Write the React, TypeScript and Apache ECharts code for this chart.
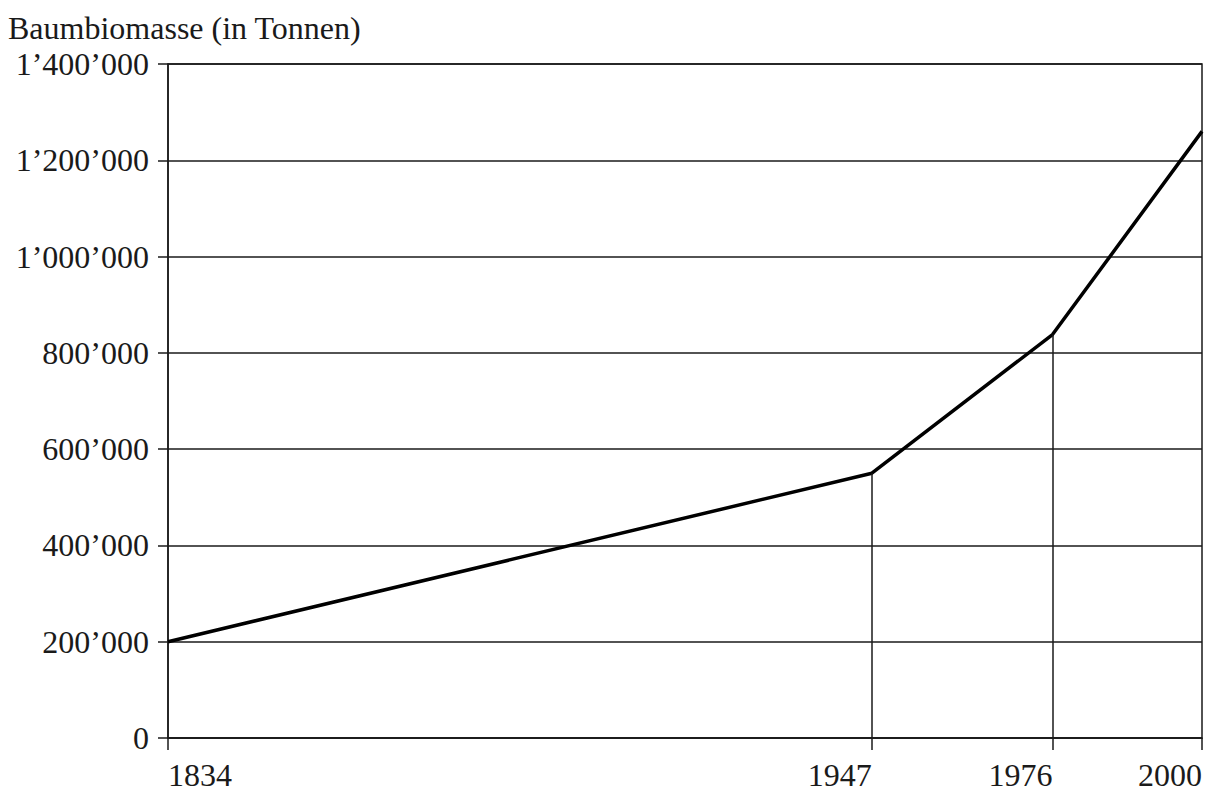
import React, { useEffect, useRef } from "react";
import * as echarts from "echarts";

const years = [1834, 1947, 1976, 2000];
const biomass = [200000, 550000, 838000, 1260000];
const xTicks = [1834, 1947, 1976, 2000];
const yTicks = [0, 200000, 400000, 600000, 800000, 1000000, 1200000, 1400000];
const titleText = "Baumbiomasse (in Tonnen)";

const FONT = "'Liberation Serif', 'Times New Roman', serif";
const INK = "#1a1a1a";

function fmt(v: number): string {
  return String(Math.round(v)).replace(/\B(?=(\d{3})+(?!\d))/g, "\u2019");
}

export default function App() {
  const ref = useRef<HTMLDivElement>(null);
  useEffect(() => {
    if (!ref.current) return;
    const chart = echarts.init(ref.current, null, { renderer: "svg" });
    const dropLines = years
      .map((y, i) => ({ y, v: biomass[i] }))
      .filter((d) => d.y !== xTicks[0] && d.y !== xTicks[xTicks.length - 1])
      .map((d) => [
        { coord: [d.y, 0] },
        { coord: [d.y, d.v] },
      ]);
    chart.setOption({
      animation: false,
      backgroundColor: "#ffffff",
      title: {
        text: titleText,
        left: 8,
        top: 12,
        padding: 0,
        textStyle: { fontFamily: FONT, fontSize: 32, lineHeight: 32, fontWeight: "normal", color: INK },
      },
      grid: {
        left: 168,
        right: 7,
        top: 64,
        bottom: 61,
        outerBoundsMode: "none",
        containLabel: false,
        show: true,
        borderColor: INK,
        borderWidth: 1.5,
      },
      xAxis: {
        type: "value",
        min: xTicks[0],
        max: xTicks[xTicks.length - 1],
        axisLine: { show: true, lineStyle: { color: INK, width: 1.5 } },
        axisTick: { show: true, length: 12, customValues: xTicks, lineStyle: { color: INK, width: 1.5 } },
        axisLabel: {
          customValues: xTicks,
          margin: 25,
          align: "right",
          alignMinLabel: "left",
          alignMaxLabel: "right",
          fontFamily: FONT,
          fontSize: 32,
          lineHeight: 24,
          color: INK,
          formatter: (v: number) => String(v),
        },
        splitLine: { show: false },
      },
      yAxis: {
        type: "value",
        min: 0,
        max: 1400000,
        interval: 200000,
        axisLine: { show: true, lineStyle: { color: INK, width: 1.5 } },
        axisTick: { show: true, length: 10, lineStyle: { color: INK, width: 1.5 } },
        axisLabel: {
          margin: 19,
          fontFamily: FONT,
          fontSize: 32,
          lineHeight: 30,
          color: INK,
          formatter: (v: number) => fmt(v),
        },
        splitLine: { show: true, lineStyle: { color: INK, width: 1.5 } },
      },
      series: [
        {
          type: "line",
          data: years.map((y, i) => [y, biomass[i]]),
          symbol: "none",
          lineStyle: { color: "#000", width: 3.5 },
          markLine: {
            silent: true,
            symbol: "none",
            label: { show: false },
            lineStyle: { color: INK, width: 1.5, type: "solid" },
            data: dropLines,
          },
        },
      ],
    });
    return () => chart.dispose();
  }, []);
  return (
    <div
      ref={ref}
      style={{ position: "absolute", left: 0, top: 0, width: 1209, height: 799 }}
    />
  );
}
